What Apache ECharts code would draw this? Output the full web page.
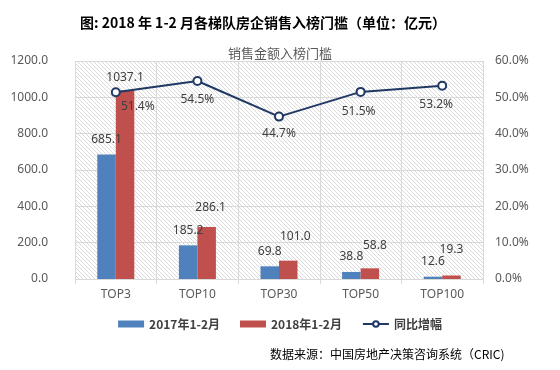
<!DOCTYPE html>
<html><head><meta charset="utf-8">
<script src="https://cdn.jsdelivr.net/npm/echarts@6/dist/echarts.min.js"></script>
<style>html,body{margin:0;padding:0;background:#fff}#c{width:560px;height:370px}</style>
</head><body><div id="c"></div>
<script>
var categories = ['TOP3', 'TOP10', 'TOP30', 'TOP50', 'TOP100'];
var sales2017 = [685.1, 185.2, 69.8, 38.8, 12.6];
var sales2018 = [1037.1, 286.1, 101.0, 58.8, 19.3];
var growth = [51.4, 54.5, 44.7, 51.5, 53.2];
var leftTicks = [0, 200, 400, 600, 800, 1000, 1200];
var rightTicks = [0, 10, 20, 30, 40, 50, 60];

// label nudges (style only)
var redLabelOffset = [[0, 2], [4, -4], [7, -9], [5, -8], [0, -11]];
var lineLabelOffset = [[22, -5], [0, 0], [0, -2], [-2, 1], [-6, 0]];

var pc = document.createElement('canvas');
pc.width = 4; pc.height = 4;
var px = pc.getContext('2d');
px.fillStyle = '#ffffff'; px.fillRect(0, 0, 4, 4);
px.strokeStyle = '#dadada'; px.lineWidth = 1;
px.beginPath();
px.moveTo(-1, -1); px.lineTo(5, 5);
px.moveTo(-1, 3); px.lineTo(1, 5);
px.moveTo(3, -1); px.lineTo(5, 1);
px.stroke();

var FF = '"Noto Sans", "Noto Sans CJK SC", sans-serif';
var chart = echarts.init(document.getElementById('c'));
chart.setOption({
  animation: false,
  textStyle: { fontFamily: FF },
  title: [
    { text: '图: 2018 年 1-2 月各梯队房企销售入榜门槛（单位：亿元）', left: 75, top: 11,
      textStyle: { fontSize: 14, fontWeight: 'bold', color: '#000', fontFamily: '"Noto Sans CJK SC", sans-serif' } },
    { text: '销售金额入榜门槛', left: 275, textAlign: 'center', top: 42,
      textStyle: { fontSize: 13, fontWeight: 'normal', color: '#595959', fontFamily: '"Noto Sans CJK SC", sans-serif' } },
    { text: '数据来源：中国房地产决策咨询系统（CRIC)', left: 265, top: 343,
      textStyle: { fontSize: 12, fontWeight: 'normal', color: '#000', fontFamily: '"Noto Sans CJK SC", sans-serif' } }
  ],
  legend: {
    top: 313, left: 'center',
    itemWidth: 26, itemHeight: 7, itemGap: 20,
    textStyle: { fontSize: 12, fontWeight: 'bold', color: '#404040', fontFamily: '"Noto Sans CJK SC", sans-serif' },
    data: [
      { name: '2017年1-2月', icon: 'rect' },
      { name: '2018年1-2月', icon: 'rect' },
      { name: '同比增幅' }
    ]
  },
  grid: { left: 75, right: 77, top: 61, bottom: 91, show: true, borderWidth: 0,
          backgroundColor: { image: pc, repeat: 'repeat' } },
  xAxis: {
    type: 'category', data: categories,
    axisLine: { lineStyle: { color: '#d9d9d9' } },
    axisTick: { show: true, length: 5, lineStyle: { color: '#d9d9d9' } },
    splitLine: { show: true, lineStyle: { color: '#d9d9d9' } },
    axisLabel: { color: '#595959', fontSize: 12, margin: 10 }
  },
  yAxis: [
    { type: 'value', min: leftTicks[0], max: leftTicks[leftTicks.length - 1], interval: leftTicks[1] - leftTicks[0],
      axisLine: { show: false }, axisTick: { show: false },
      splitLine: { lineStyle: { color: '#d9d9d9' } },
      axisLabel: { color: '#595959', fontSize: 12, margin: 27, formatter: function (v) { return v.toFixed(1); } } },
    { type: 'value', min: rightTicks[0], max: rightTicks[rightTicks.length - 1], interval: rightTicks[1] - rightTicks[0],
      axisLine: { show: false }, axisTick: { show: false }, splitLine: { show: false },
      axisLabel: { color: '#595959', fontSize: 12, margin: 12, formatter: function (v) { return v.toFixed(1) + '%'; } } }
  ],
  series: [
    { name: '2017年1-2月', type: 'bar', data: sales2017, barWidth: 18.5, barGap: '0%',
      itemStyle: { color: '#4f81bd' },
      label: { show: true, position: 'top', distance: 9, color: '#404040', fontSize: 12,
               formatter: function (p) { return p.value.toFixed(1); } } },
    { name: '2018年1-2月', type: 'bar', data: sales2018.map(function (v, i) {
        return { value: v, label: { offset: redLabelOffset[i] } }; }),
      barWidth: 18.5, barGap: '0%',
      itemStyle: { color: '#c0504d' },
      label: { show: true, position: 'top', distance: 9, color: '#404040', fontSize: 12,
               formatter: function (p) { return p.value.toFixed(1); } } },
    { name: '同比增幅', type: 'line', yAxisIndex: 1, z: 5,
      data: growth.map(function (v, i) { return { value: v, label: { offset: lineLabelOffset[i] } }; }),
      symbol: 'circle', symbolSize: 8,
      lineStyle: { color: '#1f3864', width: 2 },
      itemStyle: { color: '#ffffff', borderColor: '#1f3864', borderWidth: 2 },
      label: { show: true, position: 'bottom', distance: 8, color: '#404040', fontSize: 12,
               formatter: function (p) { return p.value.toFixed(1) + '%'; } } }
  ]
});
</script></body></html>
